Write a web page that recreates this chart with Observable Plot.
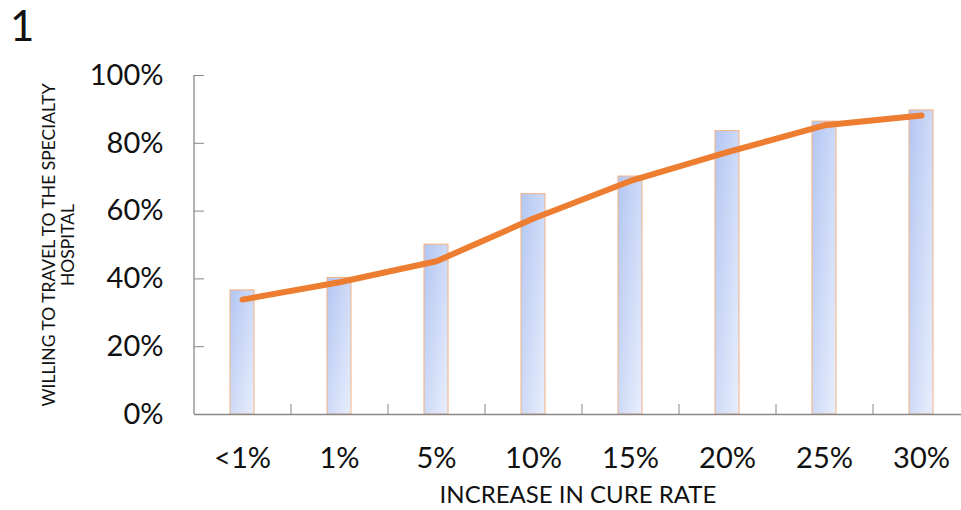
<!DOCTYPE html>
<html>
<head>
<meta charset="utf-8">
<script src="https://cdn.jsdelivr.net/npm/d3@7"></script>
<script src="https://cdn.jsdelivr.net/npm/@observablehq/plot@0.6"></script>
<style>
  html, body { margin: 0; padding: 0; background: #fff; }
  #wrap { position: relative; width: 961px; height: 510px; }
  #num { position: absolute; left: 10px; top: 0px; font: 42px Lato, sans-serif; color: #111; }
</style>
</head>
<body>
<div id="wrap"><div id="num">1</div></div>
<script>
const categories = ["<1%", "1%", "5%", "10%", "15%", "20%", "25%", "30%"];
const barValues = [0.366, 0.403, 0.501, 0.650, 0.702, 0.836, 0.864, 0.897];
const lineValues = [0.339, 0.390, 0.452, 0.578, 0.689, 0.774, 0.853, 0.882];
const yTicks = [0, 0.2, 0.4, 0.6, 0.8, 1.0];
const xTitle = "INCREASE IN CURE RATE";
const yTitle = "WILLING TO TRAVEL TO THE SPECIALTY\nHOSPITAL";

const rows = categories.map((c, i) => ({cat: c, bar: barValues[i], line: lineValues[i]}));
const step = 97;

const chart = Plot.plot({
  width: 961,
  height: 510,
  marginLeft: 194,
  marginRight: 0,
  marginTop: 75,
  marginBottom: 96,
  style: {fontFamily: "Lato, sans-serif", color: "#111", background: "white", overflow: "visible"},
  x: {type: "band", domain: categories, range: [194, 194 + step * categories.length], paddingInner: 0.75, paddingOuter: 0.375},
  y: {domain: [0, 1], range: [414, 75]},
  marks: [
    Plot.barY(rows, {x: "cat", y: "bar", fill: "url(#barGrad)", stroke: "#f4b183", strokeWidth: 1}),
    Plot.ruleY([0], {stroke: "#888", strokeWidth: 1.3}),
    Plot.ruleX([categories[0]], {y1: 0, y2: 1, dx: -step / 2, stroke: "#888", strokeWidth: 1.3}),
    Plot.axisY({ticks: yTicks, tickSize: -10, fill: "none", stroke: "#888", label: null}),
    Plot.axisY({ticks: yTicks, tickSize: 0, tickPadding: 31, tickFormat: d3.format(".0%"), fontSize: 29, label: null}),
    Plot.axisX({tickSize: -10, dx: step / 2, fill: "none", stroke: "#888", label: null}),
    Plot.axisX({tickSize: 0, tickPadding: 33, fontSize: 29, label: null}),
    Plot.line(rows, {x: "cat", y: "line", stroke: "#ed7d31", strokeWidth: 6, strokeLinecap: "round", strokeLinejoin: "round"}),
    Plot.text([xTitle], {frameAnchor: "bottom", dy: 81, lineAnchor: "middle", fontSize: 24, text: d => d}),
    Plot.text([yTitle], {frameAnchor: "left", dx: -136, rotate: -90, textAnchor: "middle", lineAnchor: "middle", fontSize: 17.5, lineHeight: 1.1, text: d => d})
  ]
});

const defs = d3.select(chart).insert("defs", ":first-child");
const grad = defs.append("linearGradient").attr("id", "barGrad")
  .attr("x1", 0).attr("y1", 0).attr("x2", 1).attr("y2", 1);
grad.append("stop").attr("offset", 0).attr("stop-color", "#b3c6f2");
grad.append("stop").attr("offset", 1).attr("stop-color", "#e8eefc");

document.getElementById("wrap").appendChild(chart);
chart.style.position = "absolute";
chart.style.left = "0";
chart.style.top = "0";
document.getElementById("num").style.zIndex = 2;
</script>
</body>
</html>
